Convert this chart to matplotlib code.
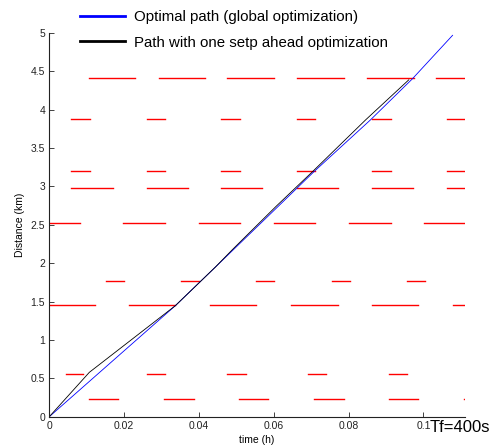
import numpy as np
import matplotlib
matplotlib.use("Agg")
import matplotlib.pyplot as plt

plt.rcParams['font.family'] = ['Liberation Sans', 'DejaVu Sans']

# red light intervals: distance (km) and (start, end) of red phases in seconds
light_dist = [0.23, 0.55, 1.45, 1.77, 2.53, 2.98, 3.20, 3.875, 4.41]
light_red = [
    [(38.6, 66.5), (109.9, 138.8), (182.6, 210.6), (254.5, 283.4), (326.8, 355.2), (399.2, 400)],
    [(15.8, 32.8), (93.9, 110.9), (171.3, 189.3), (249.1, 266.5), (326.8, 344.6)],
    [(0, 44.0), (77.1, 121.2), (154.9, 199.3), (232.3, 278.0), (310.1, 355.2), (388.2, 400)],
    [(54.7, 72.0), (127.0, 144.3), (199.3, 216.6), (271.6, 289.0), (343.9, 361.2)],
    [(0, 29.6), (71.3, 110.9), (143.6, 183.8), (216.0, 255.5), (288.3, 328.4), (360.6, 400)],
    [(20.9, 61.1), (93.9, 133.4), (165.5, 204.8), (238.5, 278.0), (310.1, 350.0), (382.5, 400)],
    [(20.9, 39.2), (93.9, 110.9), (165.5, 183.8), (238.5, 255.5), (310.1, 328.4), (382.5, 400)],
    [(20.9, 39.2), (93.9, 110.9), (165.5, 183.8), (238.5, 255.5), (310.1, 328.4), (382.5, 400)],
    [(38.6, 82.6), (105.1, 150.1), (171.3, 216.7), (238.5, 283.4), (305.3, 350.9), (372.1, 400)],
]

# optimal path (global optimization)
opt_t = [0, 0.0337, 0.0444, 0.0618, 0.0709, 0.0859, 0.0970, 0.1078]
opt_d = [0, 1.447, 1.95, 2.77, 3.20, 3.87, 4.40, 4.97]

# path with one step ahead optimization
step_t = [0, 0.0107, 0.0337, 0.0444, 0.0490, 0.0606, 0.0705, 0.0846, 0.0961]
step_d = [0, 0.578, 1.447, 1.95, 2.18, 2.74, 3.20, 3.87, 4.39]

Tf = 400  # s

fig = plt.figure(figsize=(5.03, 4.46), dpi=100)
ax = fig.add_axes([0.098, 0.0657, 0.8264, 0.8603])

for d, reds in zip(light_dist, light_red):
    for s, e in reds:
        ax.plot([s / 3600, e / 3600], [d, d], color='#ff0000', lw=1.0)

l1, = ax.plot(opt_t, opt_d, color='#0000ff', lw=0.6, label='Optimal path (global optimization)')
l2, = ax.plot(step_t, step_d, color='black', lw=0.6, label='Path with one setp ahead optimization')

ax.set_xlim(0, Tf / 3600)
ax.set_ylim(0, 5)
ax.set_xticks([0, 0.02, 0.04, 0.06, 0.08, 0.1])
ax.set_xticklabels(['0', '0.02', '0.04', '0.06', '0.08', '0.1'])
ax.set_yticks(np.arange(0, 5.01, 0.5))
ax.set_yticklabels(['0', '0.5', '1', '1.5', '2', '2.5', '3', '3.5', '4', '4.5', '5'])
ax.tick_params(direction='in', length=3.5, width=0.6, labelsize=7.5, pad=3, colors='#222222')
ax.spines['top'].set_visible(False)
ax.spines['right'].set_visible(False)
for sp in ['left', 'bottom']:
    ax.spines[sp].set_linewidth(0.8)
    ax.spines[sp].set_color('#222222')

ax.set_xlabel('time (h)', fontsize=7.5, labelpad=3)
ax.set_ylabel('Distance (km)', fontsize=7.5, labelpad=4)

leg = fig.legend(handles=[l1, l2], loc='upper left', bbox_to_anchor=(0.159, 0.978),
                 frameon=False, fontsize=10.8, handlelength=3.0, handletextpad=0.6,
                 labelspacing=0.78, borderpad=0, borderaxespad=0)
for ln in leg.get_lines():
    ln.set_linewidth(2)

fig.text(430 / 503, 1 - 428 / 446, 'Tf=400s', fontsize=12, va='center', ha='left')

plt.savefig('out.png', dpi=100)
